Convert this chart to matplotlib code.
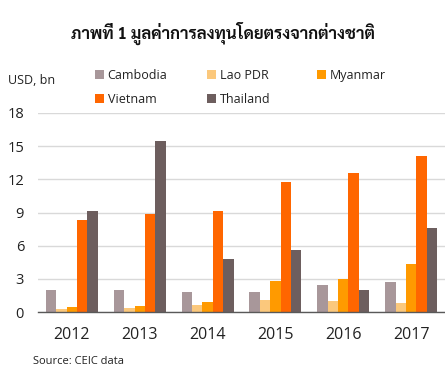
import matplotlib
matplotlib.use("Agg")
import matplotlib.pyplot as plt
import numpy as np

years = ["2012", "2013", "2014", "2015", "2016", "2017"]
series_names = ["Cambodia", "Lao PDR", "Myanmar", "Vietnam", "Thailand"]
cambodia = [2.0, 2.0, 1.8, 1.8, 2.45, 2.7]
lao = [0.27, 0.36, 0.63, 1.08, 1.0, 0.8]
myanmar = [0.45, 0.54, 0.9, 2.8, 3.0, 4.35]
vietnam = [8.3, 8.85, 9.1, 11.75, 12.55, 14.1]
thailand = [9.1, 15.45, 4.8, 5.6, 2.0, 7.6]
colors = ["#A8979A", "#FBC87C", "#FF9A00", "#FF6600", "#6D5E5E"]
yticks = [0, 3, 6, 9, 12, 15, 18]

plt.rcParams["font.family"] = ["Open Sans", "Noto Sans Thai", "DejaVu Sans"]

fig = plt.figure(figsize=(4.45, 3.91), dpi=100)
ax = fig.add_axes([38/445, 1-312/391, 407/445, (312-113)/391])

data = [cambodia, lao, myanmar, vietnam, thailand]
x = np.arange(len(years))
bw = 0.153
bars = []
for i, (name, vals, c) in enumerate(zip(series_names, data, colors)):
    b = ax.bar(x + (i - 2) * bw, vals, width=bw, color=c, label=name, zorder=2)
    bars.append(b)

ax.set_xlim(-0.5, len(years) - 0.5)
ax.set_ylim(0, 18)
ax.set_yticks(yticks)
ax.set_yticklabels([str(t) for t in yticks], fontsize=10.5, color="#222222")
ax.set_xticks(x)
ax.set_xticklabels(years, fontsize=11.5, color="#222222")
ax.tick_params(axis="x", length=0, pad=11)
ax.tick_params(axis="y", length=0, pad=10)
ax.grid(axis="y", color="#D9D9D9", linewidth=1, zorder=0)
for s in ["top", "right", "left"]:
    ax.spines[s].set_visible(False)
ax.spines["bottom"].set_color("#595959")
ax.spines["bottom"].set_linewidth(1)

fig.text(0.5, 1-33/391, "ภาพที่ 1 มูลค่าการลงทุนโดยตรงจากต่างชาติ", ha="center", va="center",
         fontsize=12, fontweight="bold", family=["Sarabun", "IBM Plex Sans Thai", "DejaVu Sans"],
         color="#111111")
fig.text(8/445, 1-81/391, "USD, bn", ha="left", va="center", fontsize=9, color="#222222")

columns = [[0, 3], [1, 4], [2]]
col_x = [95, 207, 317]
for idx, cx in zip(columns, col_x):
    leg = fig.legend([bars[i] for i in idx], [series_names[i] for i in idx],
                     loc="upper left", bbox_to_anchor=(cx/445, 1-69/391), ncol=1, frameon=False,
                     fontsize=9, handlelength=0.7, handleheight=0.7, handletextpad=0.3,
                     labelspacing=0.85, borderaxespad=0, borderpad=0)
    for t in leg.get_texts():
        t.set_color("#222222")

fig.text(33/445, 1-362/391, "Source: CEIC data", ha="left", va="center", fontsize=8, color="#222222")

fig.savefig("out.png", dpi=100)
